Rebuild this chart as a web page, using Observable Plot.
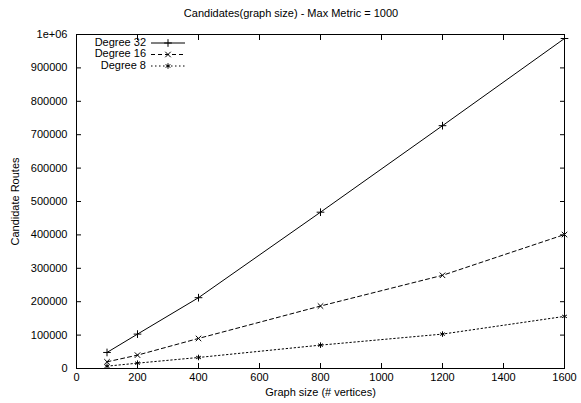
<!DOCTYPE html>
<html>
<head>
<meta charset="utf-8">
<script src="https://cdn.jsdelivr.net/npm/d3@7"></script>
<script src="https://cdn.jsdelivr.net/npm/@observablehq/plot@0.6"></script>
<style>
  html, body { margin: 0; padding: 0; background: #fff; }
  svg { font-family: "Liberation Sans", Arial, Helvetica, sans-serif; }
</style>
</head>
<body>
<div id="chart"></div>
<script>
const title = "Candidates(graph size) - Max Metric = 1000";
const xLabel = "Graph size (# vertices)";
const yLabel = "Candidate Routes";
const sizes = [100, 200, 400, 800, 1200, 1600];
const deg32 = [48000, 103000, 212000, 468000, 727000, 988000];
const deg16 = [20000, 40000, 90000, 187000, 279000, 401000];
const deg8 = [7000, 16000, 33000, 70000, 103000, 156000];
const seriesNames = ["Degree 32", "Degree 16", "Degree 8"];
const xTicks = [0, 200, 400, 600, 800, 1000, 1200, 1400, 1600];
const yTicks = [0, 100000, 200000, 300000, 400000, 500000, 600000, 700000, 800000, 900000, 1000000];

const seriesValues = [deg32, deg16, deg8];
const symbols = ["plus", "times", "asterisk"];
const dashes = [null, "4,3", "1.5,2.5"];
const tables = seriesValues.map((vals, i) => sizes.map((x, j) => ({x, y: vals[j], s: seriesNames[i]})));

const W = 581, H = 403;
const R = 2.6;
const yFmt = d => d === 1000000 ? "1e+06" : String(d);

const marks = [];
tables.forEach((t, i) => {
  marks.push(Plot.line(t, {x: "x", y: "y", stroke: "black", strokeWidth: 1, strokeDasharray: dashes[i]}));
  marks.push(Plot.dot(t, {x: "x", y: "y", symbol: () => symbols[i], r: R, stroke: "black", strokeWidth: 1}));
});

const plot = Plot.plot({
  width: W,
  height: H,
  marginLeft: 76,
  marginRight: 17,
  marginTop: 34,
  marginBottom: 35,
  style: {fontFamily: "'Liberation Sans', Arial, Helvetica, sans-serif", fontSize: "11px", color: "black", background: "white"},
  x: {domain: [0, 1600]},
  y: {domain: [0, 1000000]},
  symbol: {domain: symbols, range: symbols},
  marks: [
    Plot.frame({stroke: "black", strokeWidth: 1}),
    Plot.axisX({anchor: "bottom", ticks: xTicks, tickSize: -5, tickPadding: 10, tickFormat: d => String(d), label: xLabel, labelAnchor: "center", labelArrow: "none", labelOffset: 27, fontSize: 11}),
    Plot.axisX({anchor: "top", ticks: xTicks, tickSize: -5, tickFormat: () => "", label: null}),
    Plot.axisY({anchor: "left", ticks: yTicks, tickSize: -5, tickPadding: 14, tickFormat: yFmt, label: yLabel, labelAnchor: "center", labelArrow: "none", labelOffset: 65, fontSize: 11}),
    Plot.axisY({anchor: "right", ticks: yTicks, tickSize: -5, tickFormat: () => "", label: null}),
    ...marks
  ]
});

document.getElementById("chart").appendChild(plot);

// Title and legend (gnuplot style)
const svg = d3.select(plot);
svg.append("text")
  .attr("x", 291).attr("y", 14)
  .attr("text-anchor", "middle").attr("dominant-baseline", "middle")
  .attr("font-size", 11).attr("fill", "black")
  .text(title);

const symGen = [d3.symbolPlus, d3.symbolTimes, d3.symbolAsterisk];
const leg = svg.append("g");
seriesNames.forEach((name, i) => {
  const yy = 43 + i * 11.5;
  leg.append("text").attr("x", 146).attr("y", yy)
    .attr("text-anchor", "end").attr("dominant-baseline", "middle")
    .attr("font-size", 11).attr("fill", "black").text(name);
  leg.append("line").attr("x1", 151).attr("x2", 185).attr("y1", yy).attr("y2", yy)
    .attr("stroke", "black").attr("stroke-width", 1)
    .attr("stroke-dasharray", dashes[i]);
  leg.append("path").attr("transform", `translate(168,${yy})`)
    .attr("d", d3.symbol(symGen[i], R * R * Math.PI)())
    .attr("fill", "none").attr("stroke", "black").attr("stroke-width", 1);
});
</script>
</body>
</html>
